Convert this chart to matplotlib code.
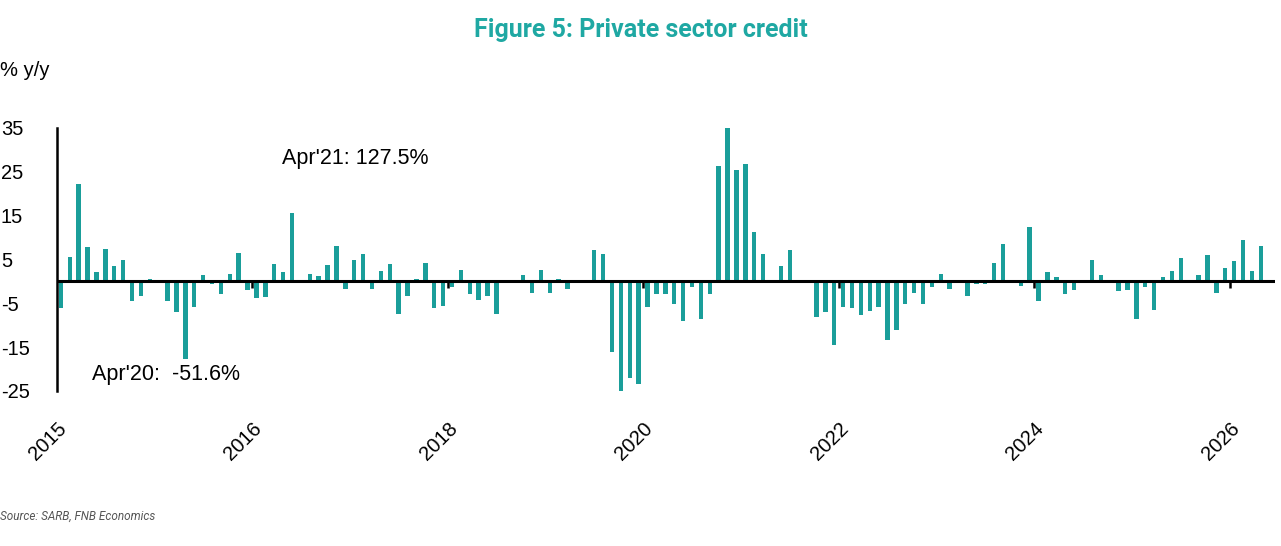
import matplotlib
matplotlib.use('Agg')
import matplotlib.pyplot as plt
import numpy as np

# Monthly y/y growth, Jan 2015 - Apr 2026 (Apr'20 and Apr'21 run off the scale)
values = [
    -6.2, 5.6, 22.1, 7.8, 2.0, 7.4, 3.5, 4.8, -4.6, -3.3, 0.5, 0.3,
    -4.6, -7.1, -17.6, -5.9, 1.3, -0.7, -2.9, 1.7, 6.5, -2.0, -3.9, -3.5,
    3.9, 2.0, 15.6, 0.0, 1.7, 1.1, 3.6, 8.1, -1.7, 4.8, 6.2, -1.7,
    2.3, 3.9, -7.5, -3.3, 0.5, 4.2, -6.2, -5.6, -1.4, 2.6, -2.9, -4.2,
    -3.3, -7.5, 0.3, -0.4, 1.3, -2.6, 2.6, -2.6, 0.5, -1.7, 0.3, 0.3,
    7.1, 6.2, -16.2, -51.6, -22.1, -23.4, -5.9, -2.9, -2.9, -5.2, -9.1, -1.4,
    -8.5, -2.9, 26.3, 127.5, 25.3, 26.7, 11.1, 6.2, -0.4, 3.5, 7.1, 0.3,
    0.3, -8.1, -7.1, -14.6, -5.9, -6.2, -7.8, -6.8, -5.9, -13.3, -11.1, -5.2,
    -2.6, -5.2, -1.4, 1.7, -1.7, 0.3, -3.3, -0.7, -0.7, 4.2, 8.4, 0.3,
    -1.0, 12.3, -4.6, 2.0, 1.0, -2.9, -2.0, 0.3, 4.8, 1.3, -0.4, -2.3,
    -2.0, -8.5, -1.4, -6.5, 1.0, 2.3, 5.2, 0.3, 1.3, 5.9, -2.6, 2.9,
    4.6, 9.4, 2.3, 8.1,
]
tick_pos = [-0.5, 21.5, 43.5, 65.5, 87.5, 109.5, 131.5]
tick_labels = ['2015', '2016', '2018', '2020', '2022', '2024', '2026']
y_ticks = [35, 25, 15, 5, -5, -15, -25]

teal = '#1a9e9a'
plt.rcParams['font.family'] = ['Liberation Sans', 'DejaVu Sans']

fig = plt.figure(figsize=(12.81, 5.46), dpi=100)
ax = fig.add_axes([56.5/1281, 1 - 391/546, (1275 - 56.5)/1281, (391 - 127.5)/546])

x = np.arange(len(values))
ax.bar(x, values, width=0.5, color=teal, zorder=2)
ax.axhline(0, color='black', lw=2.2, zorder=3)
# small tick marks hanging from the zero line
ax.vlines(tick_pos[1:], -1.6, 0, color='black', lw=1.8, zorder=3)

ax.set_ylim(-25, 35)
ax.set_xlim(-0.5, 136.6)

for s in ['top', 'right', 'bottom']:
    ax.spines[s].set_visible(False)
ax.spines['left'].set_linewidth(1.8)

ax.set_yticks(y_ticks)
ax.set_yticklabels([str(v) for v in y_ticks], fontsize=14.5)
ax.tick_params(axis='y', length=0, pad=40)
for lbl in ax.get_yticklabels():
    lbl.set_horizontalalignment('left')

ax.set_xticks(tick_pos)
ax.set_xticklabels(tick_labels, rotation=45, ha='right', rotation_mode='anchor', fontsize=14.5)
ax.tick_params(axis='x', length=0, pad=20)

fig.text(0.5, 1 - 30/546, 'Figure 5: Private sector credit', ha='center', va='center',
         fontsize=18, fontweight='bold', color='#1fa8a3', family=['Roboto', 'DejaVu Sans'])
fig.text(0.0, 1 - 71/546, '% y/y', ha='left', va='center', fontsize=14.5)
fig.text(0.0, 1 - 516/546, 'Source: SARB, FNB Economics', ha='left', va='center',
         fontsize=8.5, style='italic', color='#555555', family=['Roboto', 'DejaVu Sans'])

ax.text(33.1, 28.0, "Apr'21: 127.5%", fontsize=15.5, ha='center', va='center')
ax.text(11.8, -21.2, "Apr'20:  -51.6%", fontsize=15.5, ha='center', va='center')

fig.savefig('out.png', dpi=100)
